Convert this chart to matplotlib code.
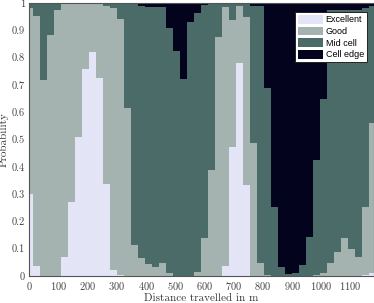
import numpy as np
import matplotlib
matplotlib.use("Agg")
import matplotlib.pyplot as plt

distance = [0, 24, 48, 72, 96, 120, 144, 168, 192, 216,
            240, 264, 288, 312, 336, 360, 384, 408, 432, 456,
            480, 504, 528, 552, 576, 600, 624, 648, 672, 696,
            720, 744, 768, 792, 816, 840, 864, 888, 912, 936,
            960, 984, 1008, 1032, 1056, 1080, 1104, 1128, 1152, 1176]

excellent = [0.30, 0.037, 0, 0, 0, 0.07, 0.27, 0.51, 0.76, 0.82,
             0.726, 0.336, 0.022, 0.004, 0, 0, 0, 0, 0, 0,
             0, 0, 0, 0, 0, 0, 0, 0, 0.037, 0.474,
             0.78, 0.333, 0, 0, 0, 0, 0, 0, 0, 0,
             0, 0, 0, 0, 0, 0, 0, 0, 0.005, 0.01]
good = [0.68, 0.916, 0.718, 0.883, 0.975, 0.925, 0.725, 0.488, 0.24, 0.18,
        0.272, 0.654, 0.958, 0.936, 0.616, 0.113, 0.067, 0.043, 0.033, 0.046,
        0.01, 0, 0, 0, 0.016, 0.14, 0.39, 0.874, 0.947, 0.462,
        0.21, 0.617, 0.486, 0.047, 0.005, 0, 0, 0, 0, 0,
        0, 0.005, 0.01, 0.046, 0.089, 0.138, 0.098, 0.068, 0.249, 0.55]
mid_cell = [0.02, 0.047, 0.282, 0.117, 0.025, 0.005, 0.005, 0.002, 0, 0,
            0.002, 0.01, 0.02, 0.06, 0.384, 0.882, 0.921, 0.942, 0.952, 0.939,
            0.897, 0.826, 0.72, 0.932, 0.947, 0.853, 0.61, 0.126, 0.016, 0.064,
            0.01, 0.05, 0.504, 0.943, 0.682, 0.254, 0.034, 0.006, 0.012, 0.04,
            0.142, 0.42, 0.64, 0.929, 0.886, 0.837, 0.877, 0.907, 0.726, 0.43]
cell_edge = [0, 0, 0, 0, 0, 0, 0, 0, 0, 0,
             0, 0, 0, 0, 0, 0.005, 0.012, 0.015, 0.015, 0.015,
             0.093, 0.174, 0.28, 0.068, 0.037, 0.007, 0, 0, 0, 0,
             0, 0, 0.01, 0.01, 0.313, 0.746, 0.966, 0.994, 0.988, 0.96,
             0.858, 0.575, 0.35, 0.025, 0.025, 0.025, 0.025, 0.025, 0.02, 0.01]

series = [("Excellent", excellent, "#E4E4F7"),
          ("Good", good, "#A4B3AF"),
          ("Mid cell", mid_cell, "#4A6B68"),
          ("Cell edge", cell_edge, "#04031E")]

plt.rcParams["font.family"] = "serif"
plt.rcParams["font.serif"] = ["cmr10", "DejaVu Serif"]
plt.rcParams["axes.formatter.use_mathtext"] = True
plt.rcParams["mathtext.fontset"] = "cm"

fig = plt.figure(figsize=(3.74, 3.03), dpi=100)
ax = fig.add_axes([29.3 / 374, 1 - 276 / 303, (374 - 29.3) / 374, 273 / 303])

x = np.array(distance, dtype=float)
bottom = np.zeros(len(distance))
for name, vals, col in series:
    v = np.array(vals, dtype=float)
    ax.bar(x, v, width=24, bottom=bottom, color=col, label=name,
           linewidth=0, align="center")
    bottom += v

ax.set_xlim(0, 1180)
ax.set_ylim(0, 1)
ax.set_xticks(np.arange(0, 1101, 100))
ax.set_yticks(np.arange(0, 1.01, 0.1))
ax.set_yticklabels(["0", "0.1", "0.2", "0.3", "0.4", "0.5", "0.6", "0.7", "0.8", "0.9", "1"])
ax.tick_params(labelsize=7.5, length=0, colors="#444444", pad=3)
for sp in ax.spines.values():
    sp.set_color("#555555")
    sp.set_linewidth(0.8)
ax.set_xlabel("Distance travelled in m", fontsize=8, color="#333333", labelpad=1)
ax.set_ylabel("Probability", fontsize=8, color="#333333", labelpad=2)

leg = ax.legend(loc="upper right", bbox_to_anchor=(0.98, 0.968), borderaxespad=0,
                fancybox=False, framealpha=1, edgecolor="#222222",
                prop={"family": "Liberation Sans", "size": 6.5},
                handlelength=2.8, handleheight=1.1, labelspacing=0.25,
                handletextpad=0.3, borderpad=0.35)
leg.get_frame().set_linewidth(0.7)

fig.savefig("out.png", dpi=100)
